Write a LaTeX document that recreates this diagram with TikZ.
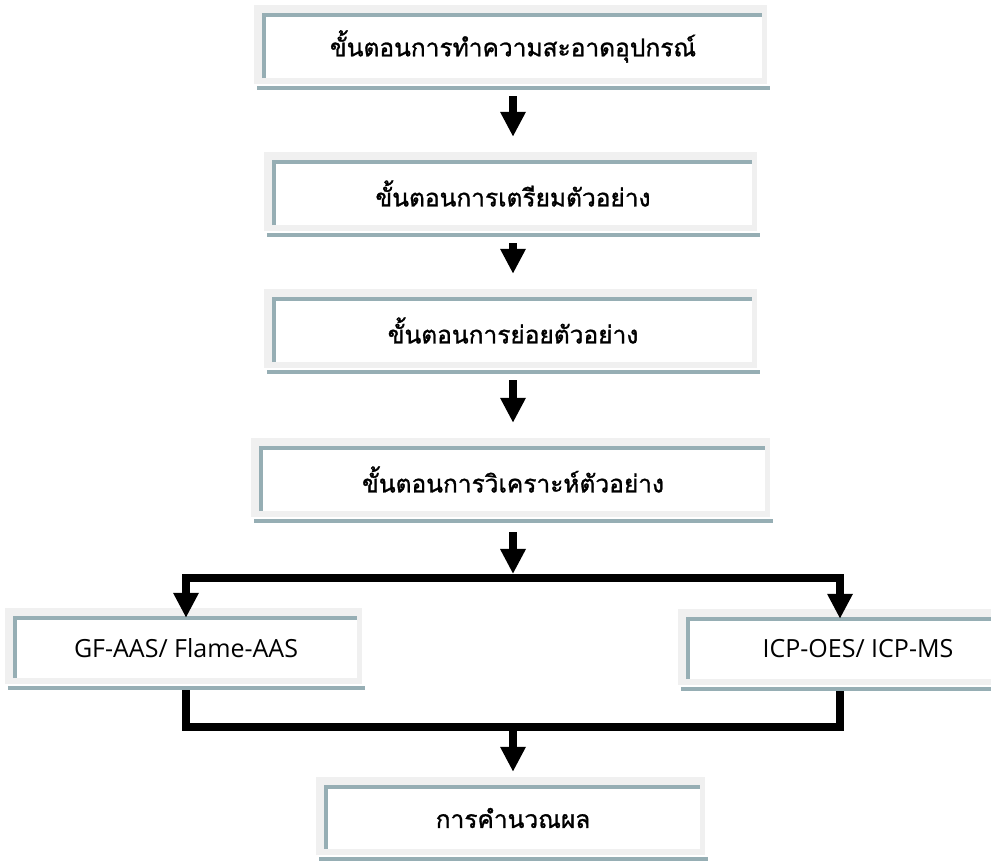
\documentclass[tikz,border=0pt]{standalone}
\usepackage{fontspec}
\setmainfont{Open Sans}
\newfontfamily\thaifont[Script=Thai,FakeBold=1.2]{Loma}
\usetikzlibrary{arrows.meta, positioning}
\pgfdeclarelayer{background}
\pgfsetlayers{background,main}
\definecolor{framegray}{RGB}{240,240,240}
\definecolor{patblue}{RGB}{150,174,180}
\tikzset{
  stepbox/.style={fill=white, inner sep=0pt, minimum height=63pt,
    font=\thaifont\fontsize{24.5}{29}\selectfont},
  methodbox/.style={stepbox, minimum height=60pt, font=\fontsize{25}{29}\selectfont},
  patline/.style={draw=patblue, line width=4pt},
  flowline/.style={line width=8pt, line join=miter},
  flowarrow/.style={flowline, -{Triangle[width=24pt,length=25pt]}}
}

\begin{document}
\begin{tikzpicture}[x=1pt,y=1pt]
  \useasboundingbox (0,0) rectangle (991,860);
  \clip (0,0) rectangle (991,860);
  % Steps
  \node[stepbox, minimum width=497pt] (clean) at (513,813.5) {ขั้นตอนการทำความสะอาดอุปกรณ์};
  \node[stepbox, minimum width=478pt] (prep) at (513,666.5) {ขั้นตอนการเตรียมตัวอย่าง};
  \node[stepbox, minimum width=478pt] (digest) at (513,529.5) {ขั้นตอนการย่อยตัวอย่าง};
  \node[stepbox, minimum width=503pt] (analyse) at (513,380.5) {ขั้นตอนการวิเคราะห์ตัวอย่าง};
  % Methods
  \node[methodbox, minimum width=342pt] (gfaas) at (186,212) {GF-AAS/ Flame-AAS};
  \node[methodbox, minimum width=340pt] (icp) at (858,211) {ICP-OES/ ICP-MS};
  % Result
  \node[stepbox, minimum width=373pt, minimum height=62pt] (calc) at (513,42) {การคำนวณผล};
  % Shadow frames
  \begin{pgfonlayer}{background}
    \foreach \n in {clean,prep,digest,analyse,gfaas,icp,calc} {
      \fill[framegray] ([shift={(-10,10)}]\n.north west) rectangle ([shift={(5,-6)}]\n.south east);
      \draw[patline] ([shift={(-7,-10)}]\n.south west) -- ([shift={(8,-10)}]\n.south east);
    }
  \end{pgfonlayer}
  \foreach \n in {clean,prep,digest,analyse,gfaas,icp,calc}
    \draw[patline] (\n.south west) -- (\n.north west) -- (\n.north east);
  % Flow
  \draw[flowarrow] ([yshift=-18]clean.south) -- ([yshift=25]prep.north);
  \draw[flowarrow] ([yshift=-18]prep.south) -- ([yshift=25]digest.north);
  \draw[flowarrow] ([yshift=-18]digest.south) -- ([yshift=25]analyse.north);
  % Split and merge
  \coordinate (split) at (513,282);
  \coordinate (merge) at (513,133);
  \draw[flowarrow] ([yshift=-21]analyse.south) -- ([yshift=4]split);
  \draw[flowarrow] (split) -| (gfaas.north);
  \draw[flowarrow] (split) -| ([xshift=-18]icp.north);
  \draw[flowline] ([yshift=-12]gfaas.south) |- (merge) -| ([xshift=-18,yshift=-12]icp.south);
  \draw[flowarrow] (merge) -- ([yshift=15]calc.north);
\end{tikzpicture}
\end{document}
